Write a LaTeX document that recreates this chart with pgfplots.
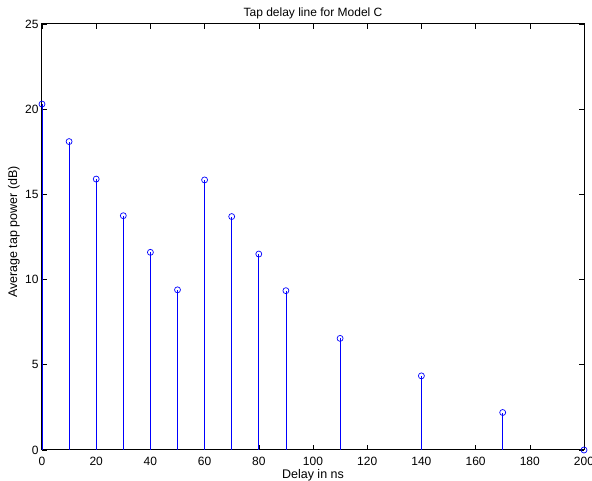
\documentclass[border=0pt]{standalone}
\usepackage{pgfplots}
\pgfplotsset{compat=1.18}
\usepackage{fontspec}
\setmainfont{Liberation Sans}
\begin{document}
\begin{tikzpicture}[x=1pt,y=1pt]
\path[use as bounding box] (-42,-31) rectangle (550,450);
\begin{axis}[
  at={(0,0)}, anchor=origin,
  scale only axis, width=542pt, height=426pt,
  xmin=0, xmax=200, ymin=0, ymax=25,
  xtick={0,20,...,200}, ytick={0,5,...,25},
  tick align=inside, major tick length=5pt,
  tick style={black, line width=0.6pt},
  axis line style={black, line width=1pt},
  /pgf/number format/assume math mode=true,
  ticklabel style={font=\fontsize{12}{14}\selectfont},
  xticklabel style={anchor=center, yshift=-11pt},
  yticklabel style={anchor=east, xshift=0pt},
  label style={font=\fontsize{12.5}{14}\selectfont},
  title style={font=\fontsize{12}{14}\selectfont, at={(axis description cs:0.5,1)}, anchor=center, yshift=5pt},
  title={Tap delay line for Model C},
  xlabel={Delay in ns},
  ylabel={Average tap power (dB)},
  xlabel style={at={(axis description cs:0.5,0)}, anchor=center, yshift=-25pt},
  ylabel style={at={(axis description cs:0,0.5)}, anchor=center, yshift=28pt, xshift=5pt},
  clip=false,
]
\addplot+[ycomb, blue, line width=0.7pt, mark=o, mark size=3pt, mark options={blue, fill=none, line width=0.7pt}] coordinates {
(0,20.3) (10,18.1) (20,15.9) (30,13.75) (40,11.6) (50,9.4) (60,15.85) (70,13.7) (80,11.5) (90,9.35) (110,6.55) (140,4.35) (170,2.2) (200,0)
};
\end{axis}
\end{tikzpicture}
\end{document}
